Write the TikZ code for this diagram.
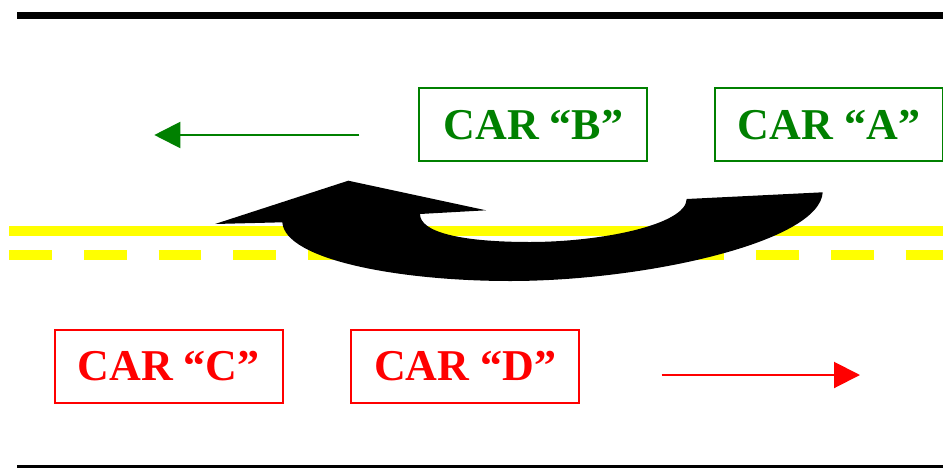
\documentclass[tikz,border=0pt]{standalone}
\usepackage{fontspec}
\setmainfont{Liberation Serif}
\usepackage{tikz}
\usetikzlibrary{arrows.meta}
\usetikzlibrary{positioning}

\definecolor{cargreen}{HTML}{008000}
\definecolor{carred}{HTML}{FF0000}
\definecolor{lineyellow}{HTML}{FFFF00}

\begin{document}
\begin{tikzpicture}[x=1pt,y=-1pt]
	 \tikzstyle{car} = [draw,line width=2pt,minimum width=228pt,minimum height=73pt,inner sep=0pt,font=\fontsize{44}{44}\selectfont\bfseries]
	 \tikzstyle{greencar} = [car,cargreen,text=cargreen]
	 \tikzstyle{redcar} = [car,carred,text=carred]
	 \tikzstyle{dir} = [line width=2pt,-{Triangle[length=26pt,width=26pt]}]
	 \useasboundingbox (0,0) rectangle (943,469);

	 % road edges
	 \draw[line width=7pt] (17,15) -- (943,15);
	 \draw[line width=3pt] (17,466) -- (943,466);

	 % centre lines
	 \draw[lineyellow,line width=10pt] (9.3,231) -- (943,231);
	 \draw[lineyellow,line width=10pt,dash pattern=on 42.7pt off 32pt] (9.3,254.5) -- (943,254.5);

	 \node[greencar] (carB) at (533.3,124.8) {CAR “B”};
	 \node[greencar] (carA) at (829,124.8) {CAR “A”};
	 \node[redcar] (carC) at (168.7,366.3) {CAR “C”};
	 \node[redcar] (carD) at (465.1,366.3) {CAR “D”};

	 \coordinate (wStart) at (359.3,135);
	 \coordinate (wEnd) at (154.3,135);
	 \coordinate (eStart) at (661.7,375);
	 \coordinate (eEnd) at (860,375);
	 \draw[dir,cargreen] (wStart) -- (wEnd);
	 \draw[dir,carred] (eStart) -- (eEnd);

	 % u-turn of car A
	 \fill[black] (822.7,192.3) -- (686.7,199)
	   .. controls (686,225) and (600,242) .. (530,242)
	   .. controls (460,242) and (420,232) .. (420,214)
	   -- (486,210.3) -- (348.3,180.7) -- (215,224) -- (282.3,222.3)
	   .. controls (285,260) and (400,281) .. (510,281)
	   .. controls (645,281) and (820,242) .. (822.7,192.3) -- cycle;
\end{tikzpicture}
\end{document}
